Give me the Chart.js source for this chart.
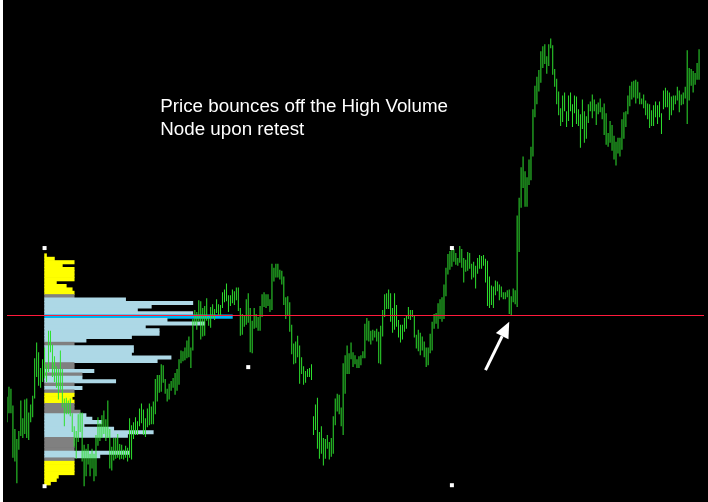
<!DOCTYPE html>
<html>
<head>
<meta charset="utf-8">
<script src="https://cdn.jsdelivr.net/npm/chart.js@4.4.1/dist/chart.umd.min.js"></script>
<style>
    html, body { margin: 0; padding: 0; background: #000; }
    .chart-wrap { width: 705px; height: 502px; border-left: 3px solid #fff; background: #000; }
</style>
</head>
<body>
<div class="chart-wrap"><canvas id="chart" width="705" height="502"></canvas></div>
<script>
// price bars, one per period (high / low in points)
const barHigh = [
    103, 113, 111, 94, 70, 60, 68, 99, 81, 100,
    101, 87, 95, 104, 142, 158, 148, 132, 141, 153,
    136, 170, 170, 156, 144, 134, 131, 150, 131, 101,
    102, 99, 101, 86, 73, 68, 85, 87, 87, 54,
    50, 55, 45, 50, 45, 64, 82, 76, 84, 89,
    80, 99, 70, 52, 61, 61, 65, 55, 54, 49,
    53, 51, 81, 74, 77, 82, 78, 91, 96, 90,
    81, 91, 96, 93, 98, 121, 125, 125, 136, 135,
    121, 111, 116, 119, 122, 127, 131, 141, 150, 149,
    153, 160, 164, 153, 182, 191, 189, 201, 200, 193,
    195, 203, 184, 194, 197, 192, 202, 197, 196, 209,
    212, 218, 206, 206, 212, 210, 214, 214, 193, 187,
    186, 202, 208, 193, 180, 193, 187, 184, 195, 207,
    209, 207, 207, 202, 238, 234, 238, 238, 232, 231,
    225, 204, 205, 199, 176, 157, 159, 165, 155, 143,
    134, 129, 131, 132, 136, 83, 95, 102, 67, 73,
    61, 60, 64, 57, 61, 83, 101, 106, 105, 92,
    137, 145, 155, 147, 158, 148, 145, 141, 144, 145,
    149, 177, 183, 180, 170, 171, 170, 172, 169, 175,
    191, 207, 208, 212, 208, 193, 208, 196, 181, 176,
    176, 183, 185, 194, 191, 191, 185, 166, 171, 168,
    164, 159, 153, 153, 167, 179, 187, 188, 198, 202,
    204, 217, 234, 248, 251, 254, 253, 249, 244, 256,
    253, 244, 242, 250, 249, 238, 240, 236, 244, 247,
    246, 247, 243, 241, 225, 216, 215, 221, 220, 217,
    215, 209, 209, 211, 212, 205, 213, 211, 287, 305,
    336, 347, 332, 326, 344, 357, 395, 419, 428, 435,
    454, 459, 461, 449, 461, 467, 460, 436, 426, 413,
    396, 409, 412, 393, 409, 412, 400, 409, 408, 395,
    390, 405, 393, 388, 400, 403, 410, 405, 400, 402,
    406, 397, 401, 391, 371, 383, 379, 368, 362, 366,
    366, 385, 392, 393, 409, 419, 423, 424, 425, 423,
    412, 406, 410, 404, 401, 400, 394, 399, 403, 399,
    403, 391, 414, 417, 414, 412, 408, 409, 409, 418,
    414, 410, 412, 418, 455, 437, 436, 434, 432, 442,
    456
];
const barLow = [
    77, 86, 86, 41, 37, 15, 49, 63, 61, 65,
    61, 59, 77, 82, 101, 123, 114, 112, 118, 122,
    118, 128, 148, 123, 118, 112, 100, 110, 92, 73,
    85, 85, 83, 67, 52, 40, 57, 67, 37, 12,
    22, 34, 22, 30, 17, 22, 53, 58, 61, 65,
    58, 61, 30, 28, 38, 40, 41, 39, 40, 39,
    41, 37, 41, 39, 60, 64, 64, 73, 76, 64,
    62, 72, 74, 75, 75, 85, 98, 107, 108, 117,
    106, 98, 100, 109, 112, 105, 109, 115, 137, 139,
    140, 142, 143, 132, 150, 176, 171, 179, 161, 164,
    165, 180, 175, 173, 183, 181, 188, 186, 185, 193,
    199, 200, 189, 195, 198, 196, 201, 190, 165, 166,
    174, 176, 178, 148, 147, 172, 173, 170, 170, 184,
    194, 193, 195, 189, 191, 220, 224, 224, 222, 217,
    196, 182, 186, 169, 146, 136, 137, 143, 116, 126,
    115, 117, 123, 123, 120, 64, 69, 50, 40, 45,
    33, 40, 50, 39, 42, 45, 74, 88, 85, 73,
    64, 106, 126, 126, 141, 133, 136, 132, 132, 135,
    142, 142, 160, 159, 156, 160, 163, 159, 137, 136,
    164, 184, 192, 192, 179, 168, 171, 174, 163, 158,
    161, 169, 172, 182, 181, 184, 163, 152, 149, 145,
    150, 143, 133, 135, 147, 150, 172, 177, 172, 182,
    179, 182, 205, 227, 232, 235, 240, 237, 236, 239,
    234, 219, 230, 231, 233, 222, 224, 213, 228, 233,
    233, 236, 219, 195, 193, 196, 193, 206, 210, 201,
    204, 202, 202, 204, 187, 186, 199, 197, 194, 250,
    295, 315, 296, 296, 318, 323, 347, 387, 400, 413,
    422, 437, 441, 431, 439, 457, 430, 418, 400, 389,
    378, 382, 393, 377, 383, 393, 377, 391, 380, 378,
    356, 375, 361, 365, 381, 393, 386, 393, 379, 390,
    392, 385, 369, 359, 357, 361, 353, 344, 338, 350,
    347, 354, 365, 377, 390, 398, 405, 407, 401, 406,
    400, 400, 396, 389, 385, 376, 378, 378, 387, 380,
    387, 370, 395, 397, 397, 384, 389, 394, 400, 404,
    392, 399, 400, 406, 380, 404, 419, 412, 420, 425,
    425
];

// volume profile, rows from the top price level down
const profileTop = 250;
const profileStep = 3.456;
const profileVolume = [
    2, 10, 30, 18, 30, 30, 30, 30, 12, 22,
    28, 30, 30, 82, 150, 108, 94, 150, 190, 124,
    162, 102, 116, 116, 88, 42, 30, 90, 90, 88,
    128, 114, 30, 30, 50, 38, 38, 72, 30, 38,
    30, 30, 28, 30, 30, 30, 36, 42, 48, 58,
    40, 70, 110, 84, 30, 30, 30, 30, 86, 56,
    30, 30, 30, 30, 30, 14, 12, 6
];
// Y = outer, B = value area, G = thin, P = point of control
const profileZone = [
    'Y', 'Y', 'Y', 'Y', 'Y', 'Y', 'Y', 'Y', 'Y', 'Y',
    'Y', 'Y', 'G', 'B', 'B', 'B', 'B', 'B', 'P', 'B',
    'B', 'B', 'B', 'B', 'B', 'B', 'G', 'B', 'B', 'B',
    'B', 'B', 'G', 'G', 'B', 'G', 'B', 'B', 'G', 'B',
    'G', 'Y', 'Y', 'Y', 'G', 'G', 'G', 'B', 'B', 'B',
    'B', 'B', 'B', 'B', 'G', 'G', 'G', 'G', 'B', 'B',
    'G', 'Y', 'Y', 'Y', 'Y', 'Y', 'Y', 'Y'
];
const pocPrice = 186;

// profile anchor markers (bar index / price)
const anchorTime = [18.75, 18.75, 121.75, 224.75, 224.75];
const anchorPrice = [254, 12, 133, 254, 13];

const noteLines = ['Price bounces off the High Volume', 'Node upon retest'];
const noteTime = 77.25;
const notePrice = [392, 369];
const arrowFrom = { x: 241.75, y: 130 };
const arrowTo = { x: 253.75, y: 179 };

const zoneColors = { Y: '#ffff00', B: '#add8e6', G: '#808080', P: '#00b4f0' };

const overlay = {
    id: 'overlay',
    afterDatasetsDraw(chart) {
        const { ctx, chartArea, scales } = chart;
        const { x, y } = scales;
        ctx.save();

        // POC line
        ctx.fillStyle = '#ff1a3c';
        ctx.fillRect(chartArea.left, Math.round(y.getPixelForValue(pocPrice)), chartArea.width, 1);

        // note
        ctx.fillStyle = '#ffffff';
        ctx.font = '18.8px "Liberation Sans", Arial, sans-serif';
        ctx.textBaseline = 'alphabetic';
        noteLines.forEach((line, i) => {
            ctx.fillText(line, x.getPixelForValue(noteTime), y.getPixelForValue(notePrice[i]));
        });

        // arrow
        const x0 = x.getPixelForValue(arrowFrom.x);
        const y0 = y.getPixelForValue(arrowFrom.y);
        const x1 = x.getPixelForValue(arrowTo.x);
        const y1 = y.getPixelForValue(arrowTo.y);
        const ang = Math.atan2(y1 - y0, x1 - x0);
        const head = 16;
        const half = 7;
        const bx = x1 - head * Math.cos(ang);
        const by = y1 - head * Math.sin(ang);
        ctx.strokeStyle = '#ffffff';
        ctx.lineWidth = 3;
        ctx.beginPath();
        ctx.moveTo(x0, y0);
        ctx.lineTo(bx, by);
        ctx.stroke();
        ctx.beginPath();
        ctx.moveTo(x1, y1);
        ctx.lineTo(bx + half * Math.sin(ang), by - half * Math.cos(ang));
        ctx.lineTo(bx - half * Math.sin(ang), by + half * Math.cos(ang));
        ctx.closePath();
        ctx.fill();

        ctx.restore();
    },
};

const priceBars = barHigh.map((h, i) => ({ x: i, y: [barLow[i], h] }));
const profileRows = profileVolume.map((v, i) => ({ y: profileTop - (i + 0.5) * profileStep, x: v }));
const anchors = anchorTime.map((t, i) => ({ x: t, y: anchorPrice[i] }));

const hiddenAxis = (axis, min, max) => ({
    type: 'linear', axis, min, max, offset: false, display: false,
});

new Chart(document.getElementById('chart'), {
    type: 'bar',
    data: {
        datasets: [
            {
                type: 'scatter',
                data: anchors,
                pointStyle: 'rect',
                pointRadius: 2.83,
                backgroundColor: '#ffffff',
                borderWidth: 0,
                order: 0,
            },
            {
                data: priceBars,
                backgroundColor: '#2ee02e',
                barThickness: 1,
                inflateAmount: 0,
                borderWidth: 0,
                order: 1,
            },
            {
                data: profileRows,
                indexAxis: 'y',
                xAxisID: 'xProfile',
                yAxisID: 'yProfile',
                backgroundColor: profileZone.map((z) => zoneColors[z]),
                barThickness: 3.5,
                inflateAmount: 0.3,
                borderWidth: 0,
                order: 2,
            },
        ],
    },
    options: {
        responsive: false,
        animation: false,
        devicePixelRatio: 1,
        layout: { padding: 0 },
        plugins: { legend: { display: false }, tooltip: { enabled: false } },
        scales: {
            x: hiddenAxis('x', -0.25, 352.25),
            y: hiddenAxis('y', 0, 502),
            xProfile: hiddenAxis('x', -38, 667),
            yProfile: hiddenAxis('y', 0, 502),
        },
    },
    plugins: [overlay],
});
</script>
</body>
</html>
